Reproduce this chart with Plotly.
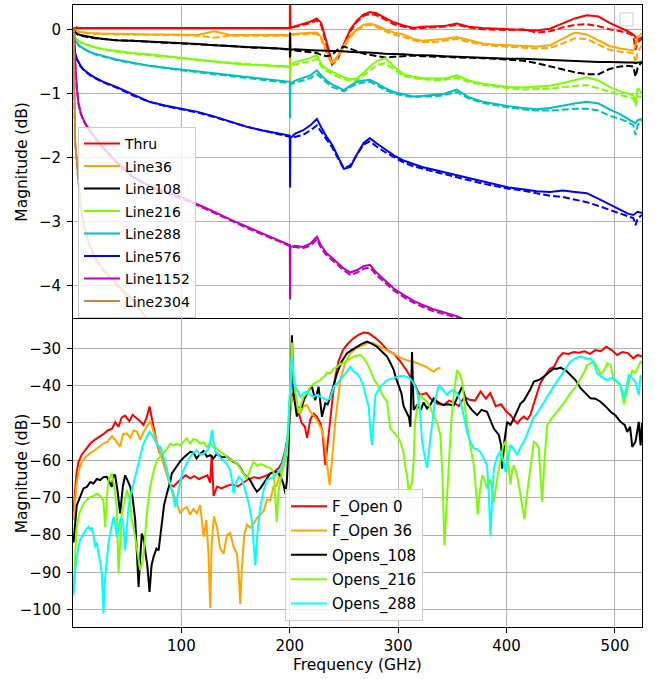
import plotly.graph_objects as go
from plotly.subplots import make_subplots

# ---------------- top panel: transmission magnitudes (dB) ----------------
F1 = [0.5, 1, 2, 3.5, 5, 7, 10, 15, 20, 28, 40, 55, 70, 85, 100, 115, 130, 145, 160, 175, 190, 199.5]
F2 = [200.0, 200.3, 200.6, 205, 212, 219, 225, 229, 234, 239, 244, 250, 256, 262, 268, 274, 280, 288,
      296, 305, 314, 322, 332, 342, 354, 365, 378, 390, 402, 415, 428, 440, 452, 463, 474, 485, 495,
      505, 512, 517, 519, 521, 525]
FT = F1 + F2
NA8 = [None] * 8
NA14 = [None] * 14
NA43 = [None] * 43

THRU_S = [0.02, 0.02, 0.03, 0.02, 0.03, 0.02, 0.03, 0.02, 0.03, 0.02, 0.03, 0.02, 0.02, 0.03, 0.02, 0.02, 0.03, 0.02, 0.02, 0.03, 0.03, 0.03] + \
         [0.02, 0.6, 0.02, 0.05, 0.08, 0.12, 0.17, 0.10, -0.20, -0.52, -0.45, -0.22, 0.00, 0.14, 0.23, 0.27, 0.25, 0.18, 0.11, 0.06, 0.02, 0.04, 0.05, 0.05, 0.09, 0.04, 0.02, 0.01, 0.00, 0.00, -0.02, 0.01, 0.09, 0.17, 0.22, 0.20, 0.10, 0.03, -0.03, -0.08, -0.12, -0.16, -0.12]
THRU_D = [0.02, 0.01, 0.02, 0.03, 0.02, 0.02, 0.02, 0.03, 0.02, 0.02, 0.02, 0.03, 0.02, 0.02, 0.03, 0.02, 0.02, 0.02, 0.03, 0.02, 0.02, 0.02] + \
         [0.02, 0.02, 0.02, 0.04, 0.07, 0.10, 0.14, 0.06, -0.25, -0.55, -0.47, -0.25, -0.03, 0.12, 0.21, 0.24, 0.22, 0.15, 0.08, 0.04, 0.01, 0.02, 0.03, 0.04, 0.07, 0.03, 0.00, -0.01, -0.01, 0.00, -0.05, -0.03, 0.03, 0.07, 0.08, 0.05, 0.00, -0.03, -0.06, -0.10, -0.32, -0.20, -0.15]

L36_S = [0.0, -0.01, -0.02, -0.03, -0.04, -0.04, -0.05, -0.06, -0.06, -0.07, -0.07, -0.08, -0.08, -0.08, -0.09, -0.09, -0.03, -0.09, -0.09, -0.09, -0.09, -0.09] + \
        [-0.09, -0.9, -0.08, -0.07, -0.06, -0.05, -0.05, -0.12, -0.35, -0.52, -0.42, -0.25, -0.10, 0.00, 0.07, 0.09, 0.06, 0.00, -0.05, -0.08, -0.15, -0.18, -0.17, -0.15, -0.12, -0.17, -0.22, -0.24, -0.25, -0.26, -0.27, -0.25, -0.15, -0.05, -0.08, -0.17, -0.26, -0.30, -0.32, -0.33, -0.25, -0.12, -0.06]
L36_D = [0.0, -0.01, -0.02, -0.03, -0.04, -0.05, -0.05, -0.06, -0.07, -0.07, -0.08, -0.08, -0.09, -0.09, -0.09, -0.10, -0.13, -0.10, -0.10, -0.10, -0.10, -0.10] + \
        [-0.10, -0.10, -0.10, -0.08, -0.08, -0.07, -0.07, -0.15, -0.38, -0.54, -0.45, -0.28, -0.12, -0.02, 0.05, 0.07, 0.04, -0.03, -0.08, -0.12, -0.17, -0.20, -0.20, -0.18, -0.15, -0.20, -0.24, -0.26, -0.27, -0.28, -0.30, -0.29, -0.22, -0.14, -0.15, -0.24, -0.32, -0.35, -0.36, -0.38, -0.53, -0.35, -0.25]

L108_S = [-0.01, -0.03, -0.05, -0.07, -0.08, -0.09, -0.10, -0.11, -0.13, -0.15, -0.17, -0.18, -0.19, -0.21, -0.22, -0.23, -0.25, -0.26, -0.27, -0.28, -0.30, -0.31] + \
         [-0.31, -0.05, -0.32, -0.31, -0.32, -0.32, -0.33, -0.33, -0.34, -0.34, -0.34, -0.35, -0.35, -0.36, -0.36, -0.37, -0.37, -0.38, -0.39, -0.39, -0.40, -0.40, -0.41, -0.42, -0.43, -0.43, -0.44, -0.45, -0.46, -0.46, -0.47, -0.48, -0.49, -0.49, -0.50, -0.51, -0.51, -0.52, -0.52, -0.52, -0.53, -0.52, -0.52]
L108_D = [-0.01, -0.03, -0.05, -0.07, -0.09, -0.10, -0.11, -0.12, -0.14, -0.15, -0.17, -0.18, -0.20, -0.21, -0.22, -0.23, -0.25, -0.26, -0.28, -0.29, -0.30, -0.32] + \
         [-0.32, -0.45, -0.32, -0.33, -0.34, -0.36, -0.37, -0.40, -0.42, -0.40, -0.32, -0.27, -0.30, -0.34, -0.38, -0.40, -0.42, -0.44, -0.43, -0.42, -0.41, -0.42, -0.43, -0.43, -0.44, -0.44, -0.45, -0.46, -0.47, -0.49, -0.53, -0.58, -0.63, -0.67, -0.70, -0.70, -0.62, -0.58, -0.57, -0.58, -0.74, -0.60, -0.50]

L216_S = [-0.02, -0.07, -0.13, -0.16, -0.18, -0.20, -0.22, -0.25, -0.28, -0.31, -0.34, -0.37, -0.39, -0.42, -0.44, -0.47, -0.50, -0.53, -0.55, -0.56, -0.57, -0.58] + \
         [-0.58, -0.75, -0.55, -0.51, -0.48, -0.45, -0.40, -0.55, -0.62, -0.66, -0.70, -0.75, -0.78, -0.77, -0.68, -0.58, -0.50, -0.45, -0.58, -0.70, -0.74, -0.76, -0.77, -0.77, -0.72, -0.80, -0.85, -0.88, -0.90, -0.91, -0.90, -0.88, -0.84, -0.79, -0.75, -0.80, -0.90, -0.97, -1.00, -1.03, -1.15, -0.92, -1.00]
L216_D = [-0.02, -0.07, -0.12, -0.16, -0.18, -0.21, -0.23, -0.26, -0.28, -0.31, -0.35, -0.38, -0.40, -0.42, -0.45, -0.48, -0.50, -0.53, -0.55, -0.57, -0.58, -0.59] + \
         [-0.60, -0.60, -0.58, -0.55, -0.52, -0.50, -0.46, -0.58, -0.65, -0.70, -0.74, -0.78, -0.80, -0.80, -0.72, -0.63, -0.56, -0.53, -0.62, -0.73, -0.76, -0.78, -0.79, -0.79, -0.76, -0.82, -0.87, -0.90, -0.92, -0.94, -0.94, -0.93, -0.90, -0.88, -0.87, -0.92, -0.98, -1.03, -1.05, -1.08, -1.20, -1.05, -1.05]

L288_S = [-0.04, -0.10, -0.17, -0.21, -0.24, -0.27, -0.30, -0.35, -0.38, -0.42, -0.47, -0.52, -0.57, -0.60, -0.63, -0.66, -0.69, -0.72, -0.75, -0.78, -0.80, -0.82] + \
         [-0.82, -1.39, -0.85, -0.80, -0.76, -0.72, -0.64, -0.72, -0.80, -0.86, -0.90, -0.95, -0.88, -0.82, -0.80, -0.79, -0.84, -0.92, -0.98, -1.02, -1.05, -1.04, -1.03, -1.01, -0.94, -1.06, -1.13, -1.17, -1.20, -1.23, -1.25, -1.23, -1.19, -1.16, -1.13, -1.16, -1.25, -1.33, -1.40, -1.46, -1.47, -1.42, -1.40]
L288_D = [-0.04, -0.10, -0.16, -0.21, -0.25, -0.28, -0.31, -0.35, -0.39, -0.43, -0.48, -0.53, -0.57, -0.61, -0.64, -0.67, -0.70, -0.73, -0.76, -0.78, -0.81, -0.83] + \
         [-0.84, -0.84, -0.86, -0.83, -0.80, -0.76, -0.70, -0.76, -0.84, -0.90, -0.93, -0.97, -0.90, -0.85, -0.83, -0.82, -0.87, -0.95, -1.00, -1.04, -1.06, -1.05, -1.05, -1.03, -0.98, -1.08, -1.15, -1.19, -1.22, -1.25, -1.27, -1.27, -1.25, -1.24, -1.24, -1.27, -1.35, -1.40, -1.45, -1.50, -1.65, -1.50, -1.42]

L576_S = [-0.10, -0.25, -0.37, -0.46, -0.52, -0.57, -0.63, -0.70, -0.75, -0.82, -0.90, -1.02, -1.13, -1.19, -1.24, -1.29, -1.36, -1.44, -1.52, -1.58, -1.63, -1.66] + \
         [-1.66, -2.47, -1.70, -1.63, -1.58, -1.50, -1.40, -1.53, -1.68, -1.80, -1.98, -2.18, -2.15, -1.95, -1.78, -1.70, -1.78, -1.87, -1.97, -2.05, -2.10, -2.15, -2.19, -2.23, -2.28, -2.33, -2.38, -2.43, -2.47, -2.50, -2.53, -2.54, -2.52, -2.54, -2.56, -2.65, -2.74, -2.82, -2.88, -2.90, -2.88, -2.85, -2.87]
L576_D = [-0.10, -0.25, -0.38, -0.47, -0.53, -0.58, -0.64, -0.71, -0.76, -0.83, -0.91, -1.03, -1.13, -1.20, -1.25, -1.30, -1.37, -1.45, -1.52, -1.58, -1.64, -1.67] + \
         [-1.68, -1.68, -1.70, -1.68, -1.65, -1.58, -1.50, -1.60, -1.72, -1.84, -2.00, -2.18, -2.12, -1.95, -1.80, -1.75, -1.83, -1.92, -2.00, -2.08, -2.14, -2.18, -2.22, -2.26, -2.31, -2.36, -2.41, -2.45, -2.49, -2.52, -2.56, -2.60, -2.62, -2.66, -2.70, -2.76, -2.82, -2.87, -2.92, -2.95, -3.06, -2.95, -2.90]

L1152_S = [-0.05, -0.25, -0.50, -0.90, -1.15, -1.30, -1.43, -1.57, -1.68, -1.85, -2.07, -2.30, -2.44, -2.54, -2.62, -2.73, -2.85, -2.97, -3.08, -3.20, -3.30, -3.37] + \
          [-3.37, -4.22, -3.40, -3.38, -3.40, -3.35, -3.24, -3.38, -3.50, -3.57, -3.65, -3.74, -3.80, -3.76, -3.70, -3.68, -3.80, -3.93, -4.05, -4.15, -4.24, -4.30, -4.37, -4.42, -4.48, -4.56, -4.65, -4.74, -4.82] + NA14
L1152_D = [-0.05, -0.26, -0.52, -0.92, -1.16, -1.31, -1.44, -1.58, -1.70, -1.86, -2.08, -2.31, -2.45, -2.55, -2.64, -2.75, -2.86, -2.98, -3.10, -3.21, -3.31, -3.38] + \
          [-3.38, -3.38, -3.40, -3.40, -3.42, -3.38, -3.28, -3.42, -3.53, -3.60, -3.68, -3.77, -3.84, -3.80, -3.74, -3.72, -3.84, -3.96, -4.08, -4.18, -4.27, -4.33, -4.40, -4.45, -4.50, -4.58, -4.67, -4.76, -4.84] + NA14

L2304_S = [-0.05, -0.90, -1.75, -2.05, -2.40, -2.75, -3.05, -3.35, -3.55, -3.75, -3.97, -4.22, -4.55, -4.80] + NA8 + NA43
L2304_D = [-0.05, -0.95, -1.80, -2.10, -2.45, -2.78, -3.08, -3.38, -3.58, -3.78, -4.00, -4.25, -4.58, -4.83] + NA8 + NA43

TOP_NAMES = ["Thru", "Line36", "Line108", "Line216", "Line288", "Line576", "Line1152", "Line2304"]
TOP_COLORS = ["#ff0000", "#ffa500", "#000000", "#7cfc00", "#00bfbf", "#0000ff", "#bf00bf", "#cd853f"]
TOP_SOLID = [THRU_S, L36_S, L108_S, L216_S, L288_S, L576_S, L1152_S, L2304_S]
TOP_DASH = [THRU_D, L36_D, L108_D, L216_D, L288_D, L576_D, L1152_D, L2304_D]

# ---------------- bottom panel: open standards (dB) ----------------
F_OPEN_0 = [(0.5,-74),(1.5,-69),(3,-64),(5,-60.5),(8,-58.5),(12,-57),(16,-55.5),(20,-54.5),(24,-53.8),(28,-53),(32,-52),(36,-51.5),(39,-49.8),(42,-51),(45,-48.5),(48,-48),(52,-49.5),(55,-47.8),(59,-48.8),(62,-49.5),(65,-50.5),(68,-48.5),(70.6,-45.6),(72.5,-48),(74.3,-51),(77,-55),(80,-58),(83,-59),(86,-62),(89.7,-66.5),(92.8,-67),(96,-66),(100,-65),(104,-64),(108,-64.8),(112,-64.2),(116,-65),(120,-64.5),(124,-64),(126.5,-66),(128,-58.6),(129.7,-69.5),(133,-67),(137,-67.5),(142,-66.8),(147,-66.5),(152,-67),(157,-66),(162,-65),(167,-64.5),(172,-64.8),(177,-64.2),(182,-63.5),(186,-63),(190,-62),(193,-60.5),(196,-57),(198.5,-53),(200.5,-46),(203,-42),(205,-43),(208,-47),(211,-50),(214,-51),(216,-54),(219,-49),(222,-47.5),(225,-48.3),(228,-50),(230,-52),(232.8,-61.3),(235,-56),(237.4,-49),(240,-42),(242,-37.6),(245,-33.5),(249,-30.5),(253,-29),(258,-27.5),(263,-26.5),(268,-25.8),(273,-26),(278,-27),(284,-28.5),(290,-30.5),(296,-31.5),(302,-33.5),(308,-36),(314,-39),(320,-42.5),(326,-42),(330,-43.5),(336,-44.8),(342,-45.2),(347,-44),(351,-44.5),(356,-45.5),(361,-43),(366,-43.8),(371,-44),(376,-41.6),(381,-43.5),(385,-42),(390,-45.5),(395,-45),(400,-47),(404,-48),(407,-49.2),(410,-50.1),(413,-49),(416,-48.3),(419,-49),(422,-47.9),(425,-45),(428,-42),(431,-39.5),(435,-37.5),(440,-35.5),(444,-34.9),(448,-32.5),(452,-31.3),(457,-31.5),(462,-31),(467,-31.2),(472,-30.8),(477,-31.5),(482,-30.5),(487,-30.8),(492,-29.6),(497,-30.5),(502,-31.8),(507,-31),(512,-31.3),(517,-32.7),(521,-31.8),(525,-32.2)]

F_OPEN_36 = [(0.5,-76),(1.5,-72),(3,-67),(5,-63),(8,-60.5),(12,-59),(16,-58),(20,-57.3),(24,-56.5),(28,-55.5),(32,-55),(36,-53.5),(39,-54.5),(43.5,-56.4),(46,-53),(49.7,-52.8),(53,-54),(56,-52),(59,-52.3),(62,-54.5),(65,-52.5),(68,-51),(71.2,-49.5),(73,-51),(75.8,-53.7),(78,-56),(80.5,-58.2),(83,-61),(86.6,-64.4),(89.7,-67),(92.8,-69),(96,-72),(99,-74.2),(102,-73),(105,-72.5),(108,-74.5),(111,-73),(114.3,-74.2),(117.4,-72),(120.5,-80.5),(123,-76),(125,-85),(126.6,-99.5),(128,-82),(130,-75),(132.8,-77.8),(135.8,-83.6),(139,-85),(142,-80),(145,-79.4),(148,-83),(151.3,-85),(153,-91),(154.3,-98.4),(156,-88),(158,-80),(160.5,-77.2),(163.5,-78),(166.6,-77),(169.7,-75.5),(172.8,-74.5),(176,-73.5),(179,-70.5),(182,-70.7),(185,-67),(188,-66.8),(191.2,-63.1),(194.3,-61.7),(197.4,-56.8),(199,-52.8),(202,-43),(205,-44),(209.7,-47.4),(212.8,-45.5),(215.9,-45.2),(219,-47),(222,-48),(225,-49.2),(229.7,-51.9),(232,-55),(234.3,-60.8),(236.8,-66.6),(239,-60),(242,-49.5),(246.6,-38.5),(251,-34),(255.9,-31.3),(262,-29.8),(268.2,-29.1),(273,-28.5),(277.4,-28.7),(283,-29.5),(289.7,-30.5),(296,-31.5),(302,-32.5),(308,-33.2),(314.3,-33.6),(320.5,-34.3),(326,-35),(332.8,-36.3),(336,-35.5),(339,-35.2)]

OPENS_108 = [(0.5,-82),(2,-76),(3.5,-72),(6.6,-69.8),(9.6,-67.5),(12.8,-67.1),(16,-65.8),(18.9,-66.2),(22,-65),(25,-65.3),(28,-64.5),(31.2,-64.4),(33.5,-66),(35.8,-67.1),(37.3,-64),(38.9,-64),(41,-68),(43.5,-74.2),(46,-67),(48.1,-64),(50.5,-65.5),(52.8,-67.1),(55,-70),(57.4,-76),(59,-85),(60.5,-93.9),(62,-86),(63.5,-79.6),(65,-81),(66.6,-84.1),(68.5,-88),(70.6,-95.2),(72.5,-88),(74.3,-85.9),(77,-83.6),(79,-84.1),(82,-76),(84,-72),(86.6,-68.9),(89.7,-65.8),(91.2,-63.5),(95,-62),(99,-60.2),(103,-59),(108.2,-57.7),(111.2,-57.9),(114,-59.5),(117.4,-58.2),(120.5,-57.5),(123.5,-59),(126.6,-58.6),(129.5,-59.5),(132.8,-58.2),(137,-59.2),(142,-59),(148.1,-60.4),(151.3,-60.8),(154.3,-62),(157.4,-63.5),(160.5,-64.5),(163.5,-65.3),(166.6,-67),(169.7,-68.4),(172.8,-67.5),(175.9,-66.2),(179,-65),(182,-63.5),(185,-63.1),(188.2,-63.1),(191.2,-64),(194.3,-66.5),(195.9,-68.9),(197.4,-65.3),(199,-55),(200.5,-40.3),(202,-26.5),(203.5,-42.1),(206.6,-48.3),(208.5,-46),(211.2,-45.6),(213.5,-43.5),(215.9,-42.1),(218,-41),(220.5,-40.3),(223.5,-43.9),(226.6,-40.3),(229.7,-48.3),(232.8,-44.7),(235,-45),(237.4,-43),(240.5,-40),(243.6,-36.7),(248,-33.5),(252.8,-31.3),(257,-30.5),(262,-29.6),(266.5,-28.8),(271.3,-28.2),(276,-28.8),(280.5,-29.6),(285,-30.8),(289.7,-32.2),(293,-34),(295.9,-35.8),(298,-38),(300.5,-40.3),(303,-42),(305.1,-45.6),(308.2,-47.4),(310,-48.5),(311.3,-51),(312.8,-31),(314.3,-46.5),(317.5,-45.2),(321,-46.5),(323.5,-44.5),(326.7,-46.1),(330,-45),(332.8,-43.4),(337,-44.5),(342,-45.2),(346,-45),(351.3,-45.3),(355,-43),(359,-40.3),(363.6,-44.8),(368,-46.5),(372.9,-47.9),(377,-46.5),(382,-47),(385,-49),(388.3,-51.5),(392.9,-53.2),(395,-56),(396,-62.2),(398,-55),(400.6,-49.7),(403.6,-50.5),(406.7,-48.8),(409.8,-47),(412.9,-44.8),(416,-44),(419,-42.5),(422,-41),(425.2,-38.9),(429.8,-38.5),(434.4,-37.6),(439,-36.5),(443.6,-35.4),(446.7,-35.5),(449.8,-35.2),(455,-36),(459,-37.2),(463.6,-38.5),(468.3,-40.7),(473,-42),(477.5,-43.4),(482,-43.5),(486.7,-44.3),(491.2,-45.5),(496,-47),(500.6,-48),(505.2,-49.7),(509,-50.5),(511.4,-52.4),(514,-51),(516,-56.4),(519,-55),(522,-49.7),(523.7,-56),(525,-50)]

OPENS_216 = [(0.5,-95),(1,-93),(2,-85),(3.5,-77.8),(6,-74),(9.7,-71.6),(12.8,-70.5),(15.8,-69.8),(19,-69.5),(22,-68.9),(25,-69.5),(28,-70.7),(29.7,-77.8),(31.2,-70),(32.8,-65.3),(35.8,-63.5),(38,-67),(40.4,-72.5),(42,-90.3),(43.5,-80),(45,-74.2),(47.5,-71),(49.7,-68),(52,-70),(54.3,-76),(56.5,-79),(58.9,-83.2),(60.5,-86),(62,-89.4),(63.5,-88),(65,-85),(66.6,-80),(68.1,-74.2),(71.2,-67.1),(74.3,-63),(77.4,-60),(80.5,-59),(83.5,-58.2),(86.6,-57),(89.7,-55.5),(92.8,-56),(95.9,-55.5),(99,-56),(102,-55),(105,-54.1),(108,-55.5),(111,-54.3),(114.3,-54.6),(117.4,-55.5),(120.5,-55.2),(123.5,-56.4),(126.5,-55.5),(129.7,-56.5),(132.8,-56.8),(135.8,-57.7),(139,-58.3),(142,-59),(145,-59.8),(148,-60.2),(151.3,-60.8),(154.3,-62.2),(157.4,-63.5),(160.5,-64.9),(163.5,-62.5),(166.6,-60.4),(170,-61.5),(173,-61),(175.9,-61.3),(179,-61.8),(182,-62),(185,-63),(186.6,-70),(188,-76.5),(189.7,-68),(191.2,-65.8),(193,-63),(195.9,-60),(197.4,-58.6),(199,-50),(200.5,-40.3),(202,-28.5),(203.5,-38.5),(206,-44),(208.2,-47.4),(210.5,-45),(212.8,-43),(216,-42),(219,-40.3),(222,-39.5),(225,-39),(228.2,-38.5),(232,-37.5),(234.4,-36.5),(237.4,-36.7),(240.5,-35.5),(243.5,-35),(246.6,-34.3),(252,-33.5),(259,-32.2),(262,-32),(265.1,-31.8),(268,-32.5),(271.3,-34),(274.4,-36),(277.4,-38.2),(280.5,-39.5),(283.6,-41.2),(286.5,-43),(289.7,-44.2),(291,-47),(292.8,-51.5),(295.9,-52.5),(299,-53.5),(302,-55),(305,-58),(306.7,-62),(308.2,-64),(309.8,-68.6),(311.5,-67),(312.8,-66),(314.4,-60),(315.5,-50),(317.5,-46),(320.5,-42.5),(323.5,-43.5),(326.7,-44.3),(329.7,-46),(332.8,-47.9),(336,-50),(339,-53.2),(341,-65),(342.7,-82.7),(344.5,-72),(346.7,-61.3),(349,-50),(351.3,-42.5),(354.4,-35.8),(357,-37),(359,-39),(361,-44),(363.6,-50.6),(366.5,-56),(369.8,-61.3),(371.5,-67),(373.5,-74.5),(375.5,-68),(377.5,-64),(380,-65.5),(382.1,-67.5),(385.2,-65),(388.3,-71.1),(391.3,-65),(394.4,-59.5),(397,-56),(399,-55),(401,-60),(403.6,-66.5),(405,-63),(406.7,-61.3),(409.8,-64),(412.9,-69.3),(414.5,-72),(416.6,-75.8),(418.5,-70),(420.6,-64.9),(423,-59),(425.2,-55),(427.5,-55.5),(429.8,-56.8),(431.5,-65),(432.9,-71.1),(435,-60),(437.5,-50.6),(441,-49),(446.7,-47),(452,-45),(459,-42),(463.6,-40.5),(468.3,-38),(471.5,-36.5),(474.4,-34.5),(477.5,-34),(480.6,-33.6),(483.7,-35),(486.7,-36.8),(489.8,-36),(492.9,-34),(496,-34.5),(499,-38.5),(502,-39),(505.2,-40),(508.3,-45),(510.5,-42),(512.9,-38.9),(516,-36),(519,-36.5),(521.5,-35),(523.7,-33.6),(525,-34)]

OPENS_288 = [(0.5,-96),(2,-89.4),(3.5,-86),(5,-83.2),(7,-81),(9.7,-79.6),(12,-78.5),(14.3,-77.8),(16,-78.5),(17.4,-78),(19,-80),(20.4,-83.2),(22,-82),(23.5,-85),(25,-87),(26.6,-90.3),(28.1,-101),(29.5,-92),(31.2,-86.8),(32.8,-82),(34.3,-79.6),(35.8,-77),(37.4,-75.1),(39,-77),(40.4,-80.5),(42,-78),(43.5,-76),(45,-75.5),(46.6,-77.8),(48.1,-84.1),(49.5,-78),(51.2,-72.5),(53.5,-69),(55.8,-66.2),(59,-62),(62,-58.2),(64.5,-56),(66.6,-54.6),(68.5,-53.5),(70.6,-52.3),(73,-53.2),(75.8,-54.6),(78,-56),(80.5,-56.4),(83,-58.5),(85,-60.8),(87.5,-63.5),(89.7,-66.2),(92,-69),(94.3,-72.5),(96,-70),(97.4,-67.1),(99.5,-65),(102,-62.6),(105,-61),(108.2,-59),(111,-58),(114.3,-57.3),(117.4,-58.5),(120.5,-58.2),(123,-57.5),(125,-57),(126.5,-55),(128.2,-51.9),(129.7,-55),(131.2,-57.5),(134,-58.5),(136.5,-59.5),(139,-60),(142,-61),(145,-62.6),(146.5,-65),(148.2,-68.9),(150.5,-66),(152.8,-64.4),(155.5,-65),(158,-67),(160.5,-69.8),(162.5,-72),(165,-76),(166.6,-82),(168.2,-88.1),(170,-80),(172.8,-72.5),(175.8,-68),(178.9,-65.3),(182,-64.8),(185.1,-64.4),(188,-63.5),(191.2,-62.6),(194.3,-60),(197.4,-55.5),(199,-48),(200.5,-40.3),(202,-32.2),(203.5,-37),(205.1,-40.3),(207.5,-41.5),(209.7,-43),(212.8,-42),(215.9,-41.6),(219,-42.5),(222,-43),(225,-42.5),(228.2,-43),(231,-43.5),(234.3,-43.9),(237.4,-43.4),(240.5,-40.3),(243.5,-39.5),(246.6,-38.5),(249.7,-37.5),(252.8,-36.2),(255.9,-34.9),(259,-36.3),(262,-36.7),(265,-38),(268.2,-40.5),(270.5,-43),(272.8,-45.6),(274.4,-52),(275.8,-55.9),(277.5,-49),(279,-42.5),(283.6,-40.3),(289.7,-38.5),(296,-38),(302,-37.4),(306.5,-37.5),(311.3,-38.1),(314.5,-39.5),(317.5,-41.6),(320,-46),(322.1,-55),(324.5,-59),(326.7,-62),(329,-56),(331.3,-49.7),(334,-44),(337.5,-39.8),(341,-41),(345.2,-42.5),(348,-41.5),(351.3,-41.2),(354.5,-42),(357.5,-44.3),(360.5,-48),(363.6,-52.4),(366.5,-55),(369.8,-56.8),(373,-57),(375.9,-57.7),(379,-59.5),(382.1,-61.3),(383.8,-70),(385.2,-80.3),(386.8,-70),(388.3,-62.2),(391.3,-59),(394.4,-57.5),(397,-60),(399,-63.1),(401,-60),(403.6,-55.9),(406.7,-57),(409.8,-58.6),(412.9,-56.5),(416,-55),(419,-53),(422.1,-50.6),(425,-48.5),(428,-47.5),(431.3,-46.1),(434.5,-44.5),(437.5,-43),(440.6,-41.6),(443.6,-40),(446.7,-38.8),(449.8,-37.6),(453,-36),(456,-34.8),(459,-33.6),(462,-33),(465,-32.5),(468.3,-32.2),(471.5,-32.5),(474.5,-32.8),(477.5,-32.7),(480.5,-34),(483.7,-36.7),(486.7,-37.5),(489.8,-38.1),(493,-38.5),(496,-38),(499,-38.1),(502,-39),(505.2,-39.8),(508.3,-43.4),(510.5,-40),(512.9,-37.2),(516,-38),(519,-39),(522,-42.5),(523.7,-37.2),(525,-38)]

BOT_NAMES = ["F_Open 0", "F_Open 36", "Opens_108", "Opens_216", "Opens_288"]
BOT_COLORS = ["#ff0000", "#ffa500", "#000000", "#7cfc00", "#00ffff"]
BOT_DATA = [F_OPEN_0, F_OPEN_36, OPENS_108, OPENS_216, OPENS_288]

X_TICKS = [100, 200, 300, 400, 500]
Y_TICKS_TOP = [0, -1, -2, -3, -4]
Y_TICKS_BOT = [-30, -40, -50, -60, -70, -80, -90, -100]

for arr in TOP_SOLID + TOP_DASH:
    assert len(arr) == len(FT), len(arr)

FONT = "DejaVu Sans"
W, H = 655, 679
ML, MR, MT, MB = 73, 13, 5, 52
PW, PH = W - ML - MR, H - MT - MB

def px_x(p):
    return (p - ML) / PW

def px_y(p):
    return (H - MB - p) / PH

fig = make_subplots(rows=2, cols=1, shared_xaxes=True, vertical_spacing=0)

for name, col, ys, yd in zip(TOP_NAMES, TOP_COLORS, TOP_SOLID, TOP_DASH):
    fig.add_trace(go.Scatter(x=FT, y=ys, mode="lines", name=name, legendgroup=name,
                             line=dict(color=col, width=2), legend="legend"), row=1, col=1)
    fig.add_trace(go.Scatter(x=FT, y=yd, mode="lines", name=name, legendgroup=name, showlegend=False,
                             line=dict(color=col, width=2, dash="7px,3px"), legend="legend"), row=1, col=1)

for name, col, pts in zip(BOT_NAMES, BOT_COLORS, BOT_DATA):
    fx = [p[0] for p in pts]
    fy = [p[1] for p in pts]
    fig.add_trace(go.Scatter(x=fx, y=fy, mode="lines", name=name, legendgroup=name,
                             line=dict(color=col, width=2), legend="legend2"), row=2, col=1)

axis_common = dict(showgrid=True, gridcolor="#b0b0b0", gridwidth=1, showline=True, linecolor="#000000",
                   linewidth=1, zeroline=False, tickfont=dict(family=FONT, size=15, color="#000"))

split = px_y(318)
fig.update_xaxes(range=[0, 525], tickvals=X_TICKS, **axis_common)
fig.update_xaxes(ticks="", showticklabels=False, mirror=True, row=1, col=1)
fig.update_xaxes(ticks="outside", ticklen=5, tickcolor="#000", mirror=False, row=2, col=1)
fig.update_yaxes(ticks="outside", ticklen=5, tickcolor="#000", ticklabelstandoff=3, mirror=True, **axis_common)
fig.update_yaxes(range=[-4.51, 0.38], tickvals=Y_TICKS_TOP, domain=[split, 1], row=1, col=1)
fig.update_yaxes(range=[-104.6, -21.9], tickvals=Y_TICKS_BOT, domain=[0, split], row=2, col=1)

ann_font = dict(family=FONT, size=15.5, color="#000")
fig.add_annotation(text="Magnitude (dB)", xref="paper", yref="paper", x=px_x(22), y=px_y(161.7),
                   textangle=-90, showarrow=False, font=ann_font, xanchor="center", yanchor="middle")
fig.add_annotation(text="Magnitude (dB)", xref="paper", yref="paper", x=px_x(22), y=px_y(473.3),
                   textangle=-90, showarrow=False, font=ann_font, xanchor="center", yanchor="middle")
fig.add_annotation(text="Frequency (GHz)", xref="paper", yref="paper", x=px_x(357), y=px_y(665),
                   showarrow=False, font=ann_font, xanchor="center", yanchor="middle")

# empty legend frame at top right
fig.add_shape(type="rect", xref="paper", yref="paper", x0=px_x(620), x1=px_x(633), y0=px_y(26), y1=px_y(13),
              line=dict(color="#cccccc", width=1), fillcolor="rgba(255,255,255,0.8)")

fig.update_layout(
    width=W, height=H, margin=dict(l=ML, r=MR, t=MT, b=MB),
    paper_bgcolor="white", plot_bgcolor="white",
    font=dict(family=FONT, color="#000"),
    legend=dict(x=px_x(78), y=px_y(127), xanchor="left", yanchor="top",
                bgcolor="rgba(255,255,255,0.8)", bordercolor="#cccccc", borderwidth=1,
                font=dict(family=FONT, size=14, color="#000"), tracegroupgap=1.3,
                traceorder="grouped", itemwidth=36),
    legend2=dict(x=px_x(285), y=px_y(489), xanchor="left", yanchor="top",
                 bgcolor="rgba(255,255,255,0.8)", bordercolor="#cccccc", borderwidth=1,
                 font=dict(family=FONT, size=15, color="#000"), tracegroupgap=1.8,
                 traceorder="grouped", itemwidth=36),
    showlegend=True,
)

fig.write_html("out.html")
